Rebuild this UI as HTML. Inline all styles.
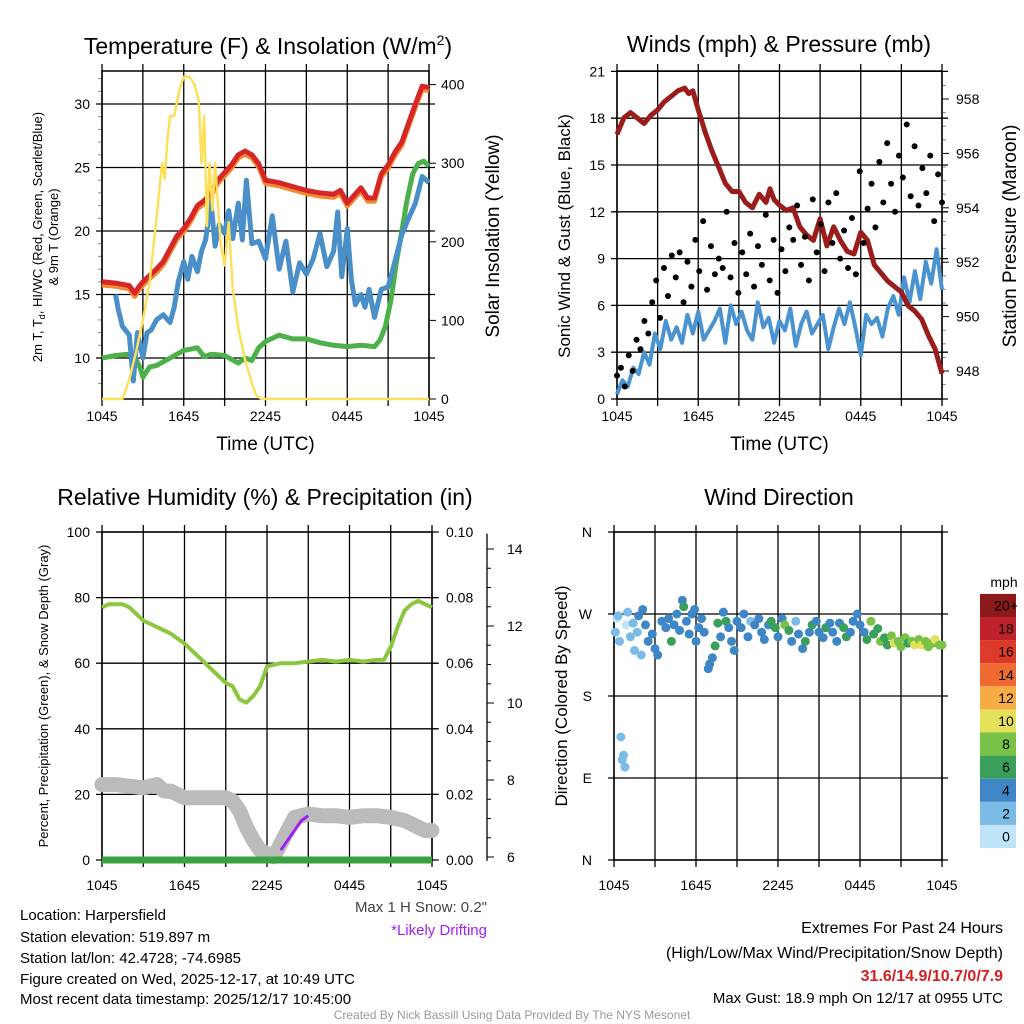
<!DOCTYPE html>
<html><head><meta charset="utf-8"><style>
body{margin:0;background:#fff}
svg{display:block;font-family:"Liberation Sans",sans-serif}
</style></head><body>
<svg id="c" width="1024" height="1024" viewBox="0 0 1024 1024">
<rect width="1024" height="1024" fill="#fff"/>
<text x="268" y="54" font-size="23" text-anchor="middle">Temperature (F) &amp; Insolation (W/m<tspan dy="-9" font-size="14">2</tspan><tspan dy="9">)</tspan></text>
<text x="779" y="52" font-size="23" text-anchor="middle">Winds (mph) &amp; Pressure (mb)</text>
<text x="265" y="505" font-size="23" text-anchor="middle">Relative Humidity (%) &amp; Precipitation (in)</text>
<text x="779" y="505" font-size="23" text-anchor="middle">Wind Direction</text>
<g id="g"></g>
<g font-size="15">
<text x="20" y="920">Location: Harpersfield</text>
<text x="20" y="942">Station elevation: 519.897 m</text>
<text x="20" y="963">Station lat/lon: 42.4728; -74.6985</text>
<text x="20" y="984">Figure created on Wed, 2025-12-17, at 10:49 UTC</text>
<text x="20" y="1004">Most recent data timestamp: 2025/12/17 10:45:00</text>
</g>
<text x="487" y="912" font-size="15" fill="#444" text-anchor="end">Max 1 H Snow: 0.2"</text>
<text x="487" y="935" font-size="15" fill="#a020f0" text-anchor="end">*Likely Drifting</text>
<g font-size="16" text-anchor="end">
<text x="1003" y="933">Extremes For Past 24 Hours</text>
<text x="1003" y="958">(High/Low/Max Wind/Precipitation/Snow Depth)</text>
<text x="1003" y="981" fill="#d42020" font-weight="bold">31.6/14.9/10.7/0/7.9</text>
<text x="1003" y="1003" font-size="15">Max Gust: 18.9 mph On 12/17 at 0955 UTC</text>
</g>
<text x="512" y="1019" font-size="12" fill="#999" text-anchor="middle">Created By Nick Bassill Using Data Provided By The NYS Mesonet</text>
</svg>
<script>
// ---- data ----
const xTickLabels=["1045","1645","2245","0445","1045"];
const tHours=[0,1,2,2.4,2.7,3,4,4.5,5,5.5,6,6.5,7,7.5,8,8.5,9,9.5,10,10.5,11,11.5,12,13,14,15,16,17,17.5,18,18.5,19,19.5,20,20.5,21,21.5,22,22.5,23,23.5,24];
const tempVals=[16,15.9,15.7,15.1,15.6,16,17,17.6,18.6,19.6,20.2,21,22,22.4,23,24,24.6,25.2,26,26.3,26,25.3,24,23.8,23.5,23.2,23,22.9,23.2,22.2,22.8,23.4,22.6,22.6,24.5,25.2,26.2,27,28.5,30,31.4,31.3];
const tdHours=[1,1.2,1.5,2,2.3,2.6,3,3.3,3.6,4,4.5,5,5.3,5.6,6,6.3,6.6,7,7.3,7.6,8,8.3,8.6,9,9.3,9.6,10,10.3,10.6,11,11.5,12,12.5,13,13.5,14,14.5,15,15.5,16,16.5,17,17.3,17.6,18,18.3,18.6,19,19.3,19.6,20,20.5,21,21.5,22,22.5,23,23.5,24];
const tdVals=[15,13.8,12.5,11.8,8.2,12,10,12,12.2,13,13.4,12.8,14,16,17.6,16.2,18,16.8,18.4,19.3,22.3,18.8,20.5,19.8,21.6,19.4,22.2,19.3,24,19,19.2,17.8,21.2,17,19.2,15.2,17.5,16.6,17.8,19.8,17.2,18.4,21.5,16.4,20.2,16.2,14.2,15,14,15.4,13.2,15.4,15.6,17.6,19.7,21,22.2,24.3,23.8];
const wcHours=[0,1,2,2.4,2.8,3,3.5,4,5,6,7,7.5,8,9,10,10.5,11,11.5,12,13,14,15,16,17,18,19,20,20.4,20.8,21.2,21.6,22,22.4,22.8,23.2,23.6,24];
const wcVals=[10,10.2,10.3,10.1,9.2,8.5,9.3,9.4,10,10.6,10.8,10.1,10.3,10.2,9.6,10,9.8,10.8,11.3,11.8,11.5,11.5,11.2,11,10.9,11,10.9,11.4,12.5,14.5,17.5,20,22.5,24.5,25.3,25.5,25.1];
const solHours=[0,1.5,2,2.5,3,3.5,4,4.4,4.6,4.8,5,5.3,5.7,6,6.4,6.8,7.1,7.3,7.5,7.7,7.9,8.1,8.3,8.5,8.7,9,9.3,9.6,10,10.5,11,11.3,11.7,24];
const solVals=[0,0,25,60,100,150,230,300,280,330,360,360,395,410,410,400,380,300,360,220,300,240,300,250,200,170,225,140,90,50,20,5,0,0];
const presHours=[0,0.5,1,1.5,2,2.5,3,3.5,4,4.5,5,5.3,5.6,6,6.5,7,7.5,8,8.5,9,9.5,10,10.5,11,11.3,11.6,12,12.5,13,13.5,14,14.5,15,15.5,16,16.5,17,17.5,18,18.5,19,19.5,20,20.5,21,21.5,22,22.5,23,23.5,24];
const presVals=[956.7,957.3,957.5,957.3,957.1,957.4,957.6,957.9,958.1,958.3,958.4,958.2,958.3,957.6,956.8,956.1,955.5,954.9,954.6,954.6,954.2,954,954.5,954.2,954.7,954.3,954.1,953.9,954,953.3,953,952.8,953.6,952.6,953.3,952.8,952.4,952.3,953.1,952.8,951.9,951.6,951.3,951.1,950.9,950.4,950.2,949.9,949.3,948.8,947.9];
const sonicVals=[0.3,1.2,0.8,2,1.6,3,2.2,4.2,3.2,5,3.8,4.6,3.6,5.4,4.2,5.6,3.8,4.4,5,5.8,3.6,6,4.8,5.6,4.4,3.8,6.2,4.6,5.2,3.6,5,4.4,5.8,3.4,4.8,5.6,4.2,4.8,5.4,3.2,4.6,5.8,4.8,6.2,4.6,2.8,5.4,4.8,5.2,4,5.8,6.6,5.4,7.8,6.2,8.2,6.4,8.8,7.4,9.6,7];
const gustVals=[1.5,2,0.8,2.8,1.8,3.8,3.2,5,4.2,6.2,7.6,5.2,8.4,6.6,9.2,7.8,9.4,6.2,8.8,7.2,10.2,8.2,11.4,7,9.8,8,9,8.4,12,7.8,10,6.8,9.4,8,10.6,7.2,9.8,8.6,11.8,7.6,10.2,6.8,9.6,8.2,11,10.2,12.4,8.6,10.4,7.6,12.8,9.4,11.2,8.2,12.6,10,13.2,9,10.8,8.4,11.6,8,14.6,10,12.2,13.8,11,15.2,12.6,16.4,13.8,12,15.6,14.2,17.6,13,16.2,12.4,14.8,13.2,15.6,11.4,14.4,12.6];
const rhHours=[0,0.5,1,1.5,2,2.5,3,4,5,6,7,8,9,9.5,10,10.5,11,11.5,12,13,14,15,16,17,18,19,20,20.5,21,21.5,22,22.5,23,23.5,24];
const rhVals=[77,78,78,78,77,75,73,71,69,66,62,58,54,53,49,48,50,53,59,60,60,60.5,61,60.5,61,60.5,61,61,65,71,76,78,79,78,77];
const snowHours=[0,1,2,3,4,4.5,5,6,7,8,9,9.5,10,10.5,11,11.5,12,12.5,13,13.5,14,15,16,17,18,19,20,21,22,22.5,23,23.5,24];
const snowVals=[23,23,22.5,22,23,21,21,19,19,19,19,18,15,10,6,3,2,1,5,9,13,14,13.5,13.5,13,13.5,13.5,13,12,11,10,9,9];
const driftHours=[13,13.5,14,14.5,15];
const driftVals=[3,6,9,12,13.5];
const dirHours=[0.1,0.2,0.3,0.4,0.5,0.6,0.7,0.8,0.9,1,1.2,1.4,1.5,1.7,1.8,2,2.1,2.3,2.5,2.8,3,3.2,3.5,3.8,4,4.2,4.4,4.6,4.8,5,5.1,5.3,5.5,5.7,5.9,6,6.2,6.4,6.6,6.9,7,7.2,7.4,7.6,7.8,8,8.2,8.4,8.6,8.8,9,9.3,9.5,9.8,10,10.3,10.6,10.8,11,11.3,11.5,11.8,12,12.3,12.5,12.8,13,13.3,13.5,13.8,14,14.3,14.5,14.8,15,15.3,15.5,15.8,16,16.3,16.5,16.8,17,17.3,17.5,17.8,18,18.3,18.5,18.8,19,19.3,19.5,19.8,20,20.3,20.5,20.8,21,21.3,21.5,21.8,22,22.3,22.5,22.8,23,23.3,23.5,23.8,24];
const dirVals=[250,265,268,240,135,110,115,102,258,272,245,260,230,250,268,225,275,258,240,248,232,225,262,255,265,240,258,270,252,285,278,262,248,270,275,240,255,265,250,210,215,222,235,260,245,272,262,255,240,230,262,255,270,245,262,258,265,250,242,258,262,255,245,265,258,252,240,262,248,232,240,250,258,262,250,244,255,260,250,240,260,255,245,250,262,270,258,250,242,262,248,254,240,244,236,246,238,240,234,244,238,240,236,242,236,240,234,238,242,236,236,238,234];
const dirSpeeds=[1,0,1,2,1,1,1,1,0,1,2,1,1,2,3,2,4,3,4,3,4,4,3,4,4,6,4,4,3,4,5,4,4,4,3,4,4,4,4,4,4,4,6,6,4,4,6,4,4,4,4,4,4,4,2,4,4,4,4,4,6,6,4,4,8,6,4,2,4,4,6,4,6,4,4,4,6,4,4,4,4,6,6,4,4,4,4,4,6,8,6,6,8,6,6,8,10,8,8,8,6,8,10,8,10,8,8,8,10,8,8,6,6];
const speedLevels=["0","2","4","6","8","10","12","14","16","18","20+"];
const speedColors=["#bfe4f8","#7cbbe6","#3f86c6","#3a9f5a","#78c247","#e4e05a","#f7ab45","#ee6a31","#dd3a2a","#c0222b","#8c1a1b"];
</script>
<script>
const NS="http://www.w3.org/2000/svg";
const G=document.getElementById('g');
function mk(tag,at,parent){const e=document.createElementNS(NS,tag);for(const k in at)e.setAttribute(k,at[k]);(parent||G).appendChild(e);return e;}
function txt(x,y,s,size,anchor,extra){const t=mk('text',Object.assign({x:x,y:y,'font-size':size,'text-anchor':anchor||'middle'},extra||{}));t.textContent=s;return t;}
function pathFrom(xs,ys,sx,sy){return xs.map((h,i)=>(i?'L':'M')+sx(h).toFixed(1)+','+sy(ys[i]).toFixed(1)).join('');}

function timeAxis(x0,x1,y0,y1,labelY,title){
  const sx=h=>x0+(x1-x0)*h/24;
  for(let h=0;h<=24;h+=3){mk('line',{x1:sx(h),x2:sx(h),y1:y0,y2:y1,stroke:'#000','stroke-width':1.3});
    mk('line',{x1:sx(h),x2:sx(h),y1:y1,y2:y1+7,stroke:'#000','stroke-width':1.3});
    mk('line',{x1:sx(h),x2:sx(h),y1:y0,y2:y0-7,stroke:'#000','stroke-width':1.3});}
  xTickLabels.forEach((l,i)=>{const t=txt(sx(i*6),labelY,l,14);
    
    });
  if(title){const t=txt((x0+x1)/2,labelY+29,title,19);
    
    }
  return sx;
}
function hgrid(x0,x1,ys){ys.forEach(y=>mk('line',{x1:x0-6,x2:x1+6,y1:y,y2:y,stroke:'#000','stroke-width':1.3}));}
function box(x0,y0,x1,y1){mk('rect',{x:x0,y:y0,width:x1-x0,height:y1-y0,fill:'none',stroke:'#000','stroke-width':1.5});}

// ===== Panel 1 =====
(function(){
  const X0=102,X1=429,Y0=71,Y1=399;
  const sy=v=>358-(v-10)*12.7, ss=v=>399-v*0.786;
  const sx=timeAxis(X0,X1,Y0,Y1,421,'Time (UTC)');
  hgrid(X0,X1,[10,15,20,25,30].map(sy));
  [10,15,20,25,30].forEach(v=>{const t=txt(X0-12,sy(v)+5,v,14,'end');});
  for(let v=8;v<=32;v++){if(v%5)mk('line',{x1:X0-4,x2:X0,y1:sy(v),y2:sy(v),stroke:'#888'});}
  [0,100,200,300,400].forEach(v=>{mk('line',{x1:X1,x2:X1+7,y1:ss(v),y2:ss(v),stroke:'#000'});const t=txt(X1+12,ss(v)+5,v,14,'start');});
  box(X0,Y0,X1,Y1);
  let p=mk('path',{d:pathFrom(tHours,tempVals.map(v=>v-0.25),sx,sy),fill:'none',stroke:'#f28a30','stroke-width':5,'stroke-linejoin':'round'});
  
  p=mk('path',{d:pathFrom(wcHours,wcVals,sx,sy),fill:'none',stroke:'#4db04a','stroke-width':5,'stroke-linejoin':'round'});
  
  p=mk('path',{d:pathFrom(tdHours,tdVals,sx,sy),fill:'none',stroke:'#4a8fc8','stroke-width':5,'stroke-linejoin':'round'});
  
  p=mk('path',{d:pathFrom(tHours,tempVals,sx,sy),fill:'none',stroke:'#d62728','stroke-width':5,'stroke-linejoin':'round'});
  
  p=mk('path',{d:pathFrom(solHours,solVals,sx,ss),fill:'none',stroke:'#fde05a','stroke-width':2.5,'stroke-linejoin':'round'});
  
  let t=txt(0,0,'2m T, T',13);t.setAttribute('transform','translate(42,237) rotate(-90)');
  const ts=mk('tspan',{'font-size':9,dy:3},t);ts.textContent='d';const ts2=mk('tspan',{dy:-3},t);ts2.textContent=', HI/WC (Red, Green, Scarlet/Blue)';
  
  t=txt(0,0,'& 9m T (Orange)',13);t.setAttribute('transform','translate(58,237) rotate(-90)');
  
  t=txt(0,0,'Solar Insolation (Yellow)',19);t.setAttribute('transform','translate(499,236) rotate(-90)');
  
})();

// ===== Panel 2 =====
(function(){
  const X0=617,X1=942,Y0=71,Y1=399;
  const sy=v=>399-v*15.6, sp=v=>371-(v-948)*27.2;
  const sx=timeAxis(X0,X1,Y0,Y1,421,'Time (UTC)');
  const ticks=[0,3,6,9,12,15,18,21];
  hgrid(X0,X1,ticks.map(sy));
  ticks.forEach(v=>{const t=txt(X0-12,sy(v)+5,v,14,'end');});
  [948,950,952,954,956,958].forEach(v=>{mk('line',{x1:X1,x2:X1+7,y1:sp(v),y2:sp(v),stroke:'#000'});const t=txt(X1+14,sp(v)+5,v,14,'start');});
  for(let v=947.5;v<=958.5;v+=0.5){if(v%2)mk('line',{x1:X1,x2:X1+4,y1:sp(v),y2:sp(v),stroke:'#888'});}
  box(X0,Y0,X1,Y1);
  const sh=sonicVals.map((v,i)=>i*24/(sonicVals.length-1));
  let p=mk('path',{d:pathFrom(sh,sonicVals,sx,sy),fill:'none',stroke:'#4b93d0','stroke-width':4,'stroke-linejoin':'round'});
  
  p=mk('path',{d:pathFrom(presHours,presVals,sx,sp),fill:'none',stroke:'#9b1c1c','stroke-width':5,'stroke-linejoin':'round'});
  
  gustVals.forEach((v,i)=>{const c=mk('circle',{cx:sx(i*24/(gustVals.length-1)),cy:sy(v),r:3,fill:'#000'});
    });
  let t=txt(0,0,'Sonic Wind & Gust (Blue, Black)',17);t.setAttribute('transform','translate(570,236) rotate(-90)');
  
  t=txt(0,0,'Station Pressure (Maroon)',19);t.setAttribute('transform','translate(1016,236) rotate(-90)');
  
})();

// ===== Panel 3 =====
(function(){
  const X0=102,X1=432,Y0=532,Y1=860;
  const sy=v=>860-v*3.28, sd=v=>857-(v-6)*38.5;
  const sx=timeAxis(X0,X1,Y0,Y1,890,null);
  hgrid(X0,X1,[0,20,40,60,80,100].map(sy));
  [0,20,40,60,80,100].forEach(v=>{const t=txt(X0-12,sy(v)+5,v,14,'end');
    mk('line',{x1:X1,x2:X1+7,y1:sy(v),y2:sy(v),stroke:'#000'});
    const t2=txt(X1+14,sy(v)+5,(v/1000).toFixed(2),14,'start');});
  mk('line',{x1:487,x2:487,y1:sd(14.4),y2:sd(5.9),stroke:'#000','stroke-width':1.3});
  for(let v=6;v<=14;v+=0.5){mk('line',{x1:487,x2:v%2?491:494,y1:sd(v),y2:sd(v),stroke:'#000'});}
  [6,8,10,12,14].forEach(v=>{const t=txt(507,sd(v)+5,v,14,'start');});
  box(X0,Y0,X1,Y1);
  let p=mk('path',{d:pathFrom(snowHours,snowVals,sx,sy),fill:'none',stroke:'#bbb','stroke-width':15,'stroke-linejoin':'round','stroke-linecap':'round'});
  
  p=mk('path',{d:pathFrom(driftHours,driftVals,sx,sy),fill:'none',stroke:'#a020f0','stroke-width':3});
  
  p=mk('line',{x1:X0,x2:X1,y1:sy(0),y2:sy(0),stroke:'#3aa040','stroke-width':7});
  
  p=mk('path',{d:pathFrom(rhHours,rhVals,sx,sy),fill:'none',stroke:'#8cc63f','stroke-width':4,'stroke-linejoin':'round'});
  
  let t=txt(0,0,'Percent, Precipitation (Green), & Snow Depth (Gray)',13);t.setAttribute('transform','translate(48,696) rotate(-90)');
  
})();

// ===== Panel 4 =====
(function(){
  const X0=614,X1=942,Y0=532,Y1=860;
  const sy=d=>860-d*0.9111;
  const sx=timeAxis(X0,X1,Y0,Y1,890,null);
  const dl=['N','E','S','W','N'];
  hgrid(X0,X1,[0,90,180,270,360].map(sy));
  [0,90,180,270,360].forEach((d,i)=>{const t=txt(X0-22,sy(d)+5,dl[i],14,'end');});
  box(X0,Y0,X1,Y1);
  const n=Math.min(dirHours.length,dirVals.length,dirSpeeds.length);
  for(let i=0;i<n;i++){const k=Math.min(10,Math.round(dirSpeeds[i]/2));
    const c=mk('circle',{cx:sx(dirHours[i]),cy:sy(dirVals[i]),r:4.5,fill:speedColors[k]});
    }
  let t=txt(0,0,'Direction (Colored By Speed)',17);t.setAttribute('transform','translate(567,696) rotate(-90)');
  
  const cb=mk('g',{});
  
  
  const h=23.1;
  speedColors.forEach((c,i)=>{mk('rect',{x:980,y:848-(i+1)*h,width:36,height:h,fill:c},cb);});
  speedLevels.forEach((l,i)=>{const tt=txt(1006,848-i*h-h/2+5,l,14,'middle');});
  t=txt(1004,587,'mph',14);
})();
</script>
</body></html>
